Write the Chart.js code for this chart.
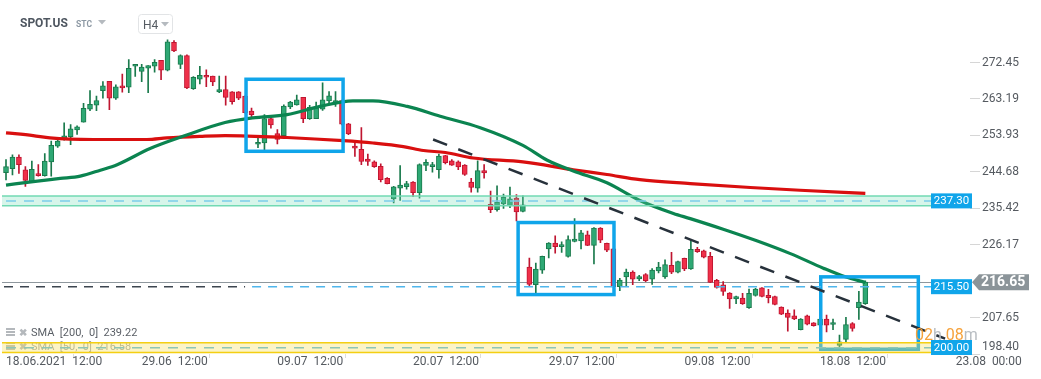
<!DOCTYPE html>
<html>
<head>
<meta charset="utf-8">
<script src="https://cdn.jsdelivr.net/npm/chart.js@4.4.1/dist/chart.umd.min.js"></script>
<style>
  html, body { margin: 0; padding: 0; background: #fff; }
  #wrap { width: 1041px; height: 379px; position: relative; }
</style>
</head>
<body>
<div id="wrap"><canvas id="chart" width="1041" height="379"></canvas></div>
<script>
// H4 candles, SPOT.US
const candleOpen = [244.5,245.5,248.4,245.2,242.2,244.2,243.7,247.2,251.2,253.2,
  253.6,255.3,257.3,260.6,261.6,265.3,267.7,263.4,266.5,266.2,
  271.5,270.2,271.0,271.5,273.0,270.5,277.6,272.0,274.2,265.8,
  268.2,269.2,269.0,265.0,265.6,265.0,265.0,263.9,260.1,251.7,
  252.0,258.2,254.4,253.9,261.2,261.7,263.6,258.2,258.2,260.6,
  262.7,262.2,262.8,256.9,251.2,250.4,247.9,247.2,246.1,243.0,
  237.8,240.5,240.9,242.1,239.4,246.3,246.0,245.2,248.8,247.5,
  247.2,246.4,242.1,240.5,245.0,236.4,235.1,236.5,236.0,238.0,
  234.6,220.5,216.0,219.7,225.1,226.6,225.7,223.2,227.0,227.1,
  228.7,226.0,230.4,226.5,225.1,215.5,218.0,219.2,217.5,218.6,
  217.4,219.5,218.0,220.9,219.2,222.7,220.0,225.0,224.6,223.2,
  217.1,216.0,213.9,212.4,212.6,210.2,213.3,215.2,213.3,213.0,
  210.3,208.8,208.1,204.6,208.1,206.3,205.7,207.3,205.9,200.6,
  202.1,206.1,210.2,211.2];
const candleHigh = [247.8,249.0,249.0,246.0,247.4,246.5,249.3,252.5,253.0,257.1,
  256.7,256.4,262.1,265.3,263.9,267.6,267.7,266.8,269.5,273.2,
  272.0,272.0,271.7,273.2,273.0,278.2,278.0,274.4,274.4,268.9,
  271.5,270.6,269.0,269.0,269.0,265.1,265.1,264.0,260.9,253.3,
  259.2,258.3,255.4,261.7,262.6,264.2,263.6,261.6,262.4,267.3,
  265.1,265.1,262.9,257.0,252.7,255.9,249.2,247.5,246.7,243.2,
  241.0,246.3,242.3,242.2,246.7,247.8,247.1,249.2,248.9,247.8,
  247.5,246.5,243.0,247.5,246.5,239.8,241.1,239.0,240.8,238.9,
  238.6,222.8,221.5,223.3,226.7,228.4,226.9,228.4,232.8,229.8,
  229.6,230.5,230.5,226.6,225.2,217.6,220.0,219.5,218.4,218.8,
  220.1,221.7,222.3,224.2,222.0,222.8,227.3,225.5,224.8,224.2,
  217.4,216.8,214.0,213.1,213.8,214.9,215.1,215.3,214.8,213.1,
  210.4,209.6,209.6,207.4,208.3,206.4,207.4,208.3,207.3,203.2,
  207.7,206.4,214.3,217.0];
const candleLow = [242.6,243.9,244.3,241.0,242.0,243.6,243.6,243.6,250.9,252.7,
  251.6,254.2,257.3,260.2,260.2,263.4,260.5,263.1,264.9,264.8,
  268.9,267.6,264.8,270.0,268.1,270.3,275.2,270.9,265.8,265.6,
  267.0,266.3,266.6,264.8,261.6,261.9,263.0,259.6,258.7,250.8,
  250.2,255.8,251.8,253.7,260.7,261.6,257.2,258.0,258.2,260.3,
  262.2,261.3,256.6,254.1,248.6,246.5,246.3,245.8,242.1,241.6,
  236.8,237.4,240.3,238.4,238.0,245.0,244.6,243.1,246.7,246.3,
  245.2,243.8,239.5,239.5,243.1,234.3,234.7,235.4,235.6,232.2,
  234.5,215.7,213.7,218.9,222.8,224.0,224.2,223.0,226.9,225.1,
  225.9,221.3,226.7,224.4,215.3,214.5,215.7,216.0,217.0,216.8,
  216.1,219.0,217.6,218.8,219.0,219.6,219.9,224.2,222.8,216.5,
  215.1,213.3,210.0,211.2,211.0,210.0,213.1,212.9,211.4,210.9,
  208.4,204.2,207.1,204.5,205.8,205.5,205.6,204.0,204.6,199.7,
  201.3,204.2,207.2,211.0];
const candleClose = [246.0,248.4,246.5,242.5,245.3,243.7,247.4,251.4,252.5,253.8,
  255.6,256.1,260.8,261.8,262.8,266.5,263.4,266.3,266.0,271.0,
  272.0,271.3,271.7,272.5,270.5,277.7,275.4,274.2,266.0,268.7,
  269.2,268.7,267.5,265.6,263.6,262.5,263.4,259.7,259.2,252.2,
  258.2,256.6,252.9,261.4,262.4,263.0,258.2,261.1,260.9,263.0,
  264.0,262.8,256.8,254.3,250.7,247.3,247.3,246.0,242.7,241.7,
  240.9,241.3,241.7,239.4,246.5,247.1,246.5,248.7,247.0,246.4,
  245.9,244.0,240.7,245.0,244.4,235.1,237.0,238.2,237.8,234.5,
  236.3,216.1,220.0,223.2,226.6,225.7,226.2,227.5,227.6,229.2,
  226.0,230.4,227.3,224.8,215.5,217.2,219.2,217.4,218.1,217.0,
  219.7,220.5,221.1,219.2,221.9,220.0,225.0,224.4,223.0,216.6,
  215.3,214.3,212.4,213.0,211.2,213.8,214.9,213.0,212.7,211.0,
  208.5,207.7,207.3,207.3,206.0,205.6,207.3,205.7,206.4,201.5,
  205.9,204.9,211.6,216.65];

// moving averages (candle index, value)
const sma200X = [0,4.2,6.8,13.5,21.8,24.9,30,33.9,43.5,52.2,56.8,61.5,64.6,68,72.3,80,87.8,93,98.1,105.9,115.2,122.9,133];
const sma200Y = [254.6,253.9,253.3,252.9,252.9,253.3,253.7,253.9,253.4,252.6,252.0,251.1,250.1,249.6,248.2,247.2,245.2,244.0,242.7,241.7,240.7,240.0,239.22];
const sma50X = [0,4.2,8.4,11.5,14.6,17.2,22.3,27.4,33.9,38.2,43.5,48.6,53.7,56.8,62.1,67.2,73.4,80,83.7,87.8,93,98.1,103.3,105.9,111,116.3,121.4,126.5,129.9,133];
const sma50Y = [241.3,242.2,243.0,243.6,245.1,246.5,250.6,253.7,257.2,258.4,259.2,261.3,262.7,262.7,261.3,258.8,255.9,251.4,247.7,244.9,241.9,237.4,234.1,232.8,230.1,227.1,223.9,220.2,218.0,216.58];

// axis ticks
const xTickIdx = [0, 21, 42, 63, 84, 105, 126, 147];
const xTickText = ['18.06.2021  12:00', '29.06  12:00', '09.07  12:00', '20.07  12:00', '29.07  12:00', '09.08  12:00', '18.08  12:00', '23.08  00:00'];
const yTicks = [198.40, 207.65, 226.17, 235.42, 244.68, 253.93, 263.19, 272.45];

// drawings on the chart
const levelValues = [237.30, 215.50, 200.00];
const lastPrice = 216.65;
const boxX0 = [37.15, 79.26, 126.1];
const boxX1 = [52.17, 94.1, 141.2];
const boxLow = [249.9, 213.5, 199.6];
const boxHigh = [268.2, 231.8, 218.0];
const trendX = [66.1, 145.35];
const trendY = [252.9, 202.3];
const oldLevelEnd = 37; // dark part of the 215.50 line ends at this candle

const idx = candleOpen.map((_, i) => i);
const isUp = idx.map(i => candleClose[i] >= candleOpen[i]);
const GREEN_FILL = '#2ea874', GREEN_EDGE = '#1a7a4c';
const RED_FILL = '#ef3049', RED_EDGE = '#bf1530';
const BLUE = '#10a5ea';
const FONT = 'Roboto, "Noto Sans", sans-serif';

function hline(ctx, x0, x1, y) {
  ctx.beginPath(); ctx.moveTo(x0, y); ctx.lineTo(x1, y); ctx.stroke();
}

const overlay = {
  id: 'overlay',
  beforeDatasetsDraw(chart) {
    const { ctx, chartArea: a, scales: { y } } = chart;
    ctx.save();
    // last price line
    ctx.strokeStyle = '#8e979d';
    ctx.lineWidth = 1;
    hline(ctx, a.left, a.right + 2, Math.round(y.getPixelForValue(lastPrice)) + 0.5);
    // study legend
    ctx.textBaseline = 'alphabetic';
    const rows = [['SMA  [200,  0]  239.22', '#5a5f66', 336], ['SMA  [50,  0]  216.58', '#a0a4a8', 350]];
    rows.forEach(([t, c, by]) => {
      ctx.fillStyle = '#b4b8bc';
      ctx.fillRect(6, by - 8, 9, 2); ctx.fillRect(6, by - 5, 9, 2); ctx.fillRect(6, by - 2, 9, 2);
      ctx.font = 'bold 10px ' + FONT;
      ctx.fillText('\u2716', 19, by);
      ctx.font = '11px ' + FONT;
      ctx.fillStyle = c;
      ctx.fillText(t, 31, by);
    });
    ctx.restore();
  },
  afterDatasetsDraw(chart) {
    const { ctx, chartArea: a, scales: { x, y } } = chart;
    ctx.save();
    // rectangles
    ctx.strokeStyle = BLUE;
    ctx.lineWidth = 3.5;
    boxX0.forEach((bx, k) => {
      const px0 = x.getPixelForValue(bx), px1 = x.getPixelForValue(boxX1[k]);
      const py0 = y.getPixelForValue(boxHigh[k]), py1 = y.getPixelForValue(boxLow[k]);
      ctx.strokeRect(px0, py0, px1 - px0, py1 - py0);
    });
    const labelLeft = a.right - 39;
    // support / resistance zones
    const zones = [
      { v: levelValues[0], fill: 'rgba(110,220,178,0.28)', edge: '#72dab3', dash: '#7ccdea' },
      { v: levelValues[2], fill: 'rgba(246,224,96,0.36)', edge: '#f4cf12', dash: '#8ec6b4' }
    ];
    zones.forEach(z => {
      const top = y.getPixelForValue(z.v + 1.25), bot = y.getPixelForValue(z.v - 1.25);
      ctx.fillStyle = z.fill;
      ctx.fillRect(a.left, top, labelLeft - a.left, bot - top);
      ctx.strokeStyle = z.edge; ctx.lineWidth = 1.5; ctx.setLineDash([]);
      hline(ctx, a.left, labelLeft, top);
      hline(ctx, a.left, labelLeft, bot);
      ctx.strokeStyle = z.dash; ctx.setLineDash([10, 8]);
      hline(ctx, a.left + 4, labelLeft, y.getPixelForValue(z.v));
    });
    // 215.50 level (darker on the left)
    const ly = y.getPixelForValue(levelValues[1]);
    const split = x.getPixelForValue(oldLevelEnd);
    ctx.lineWidth = 1.5; ctx.setLineDash([9, 7]);
    ctx.strokeStyle = '#3d4650';
    hline(ctx, a.left + 2, split, ly);
    ctx.strokeStyle = '#4fb6ec';
    hline(ctx, split + 7, labelLeft, ly);
    // trend line
    ctx.strokeStyle = '#27313b'; ctx.lineWidth = 2.5; ctx.setLineDash([15, 12]);
    ctx.beginPath();
    ctx.moveTo(x.getPixelForValue(trendX[0]), y.getPixelForValue(trendY[0]));
    ctx.lineTo(x.getPixelForValue(trendX[1]), y.getPixelForValue(trendY[1]));
    ctx.stroke();
    ctx.setLineDash([]);
    // level labels
    ctx.font = '11.5px ' + FONT;
    ctx.textBaseline = 'middle';
    ctx.textAlign = 'center';
    levelValues.forEach(v => {
      const py = Math.min(y.getPixelForValue(v), a.bottom - 6.5);
      ctx.fillStyle = BLUE;
      ctx.fillRect(labelLeft, py - 7.5, 41, 15);
      ctx.fillStyle = '#fff';
      ctx.fillText(v.toFixed(2), labelLeft + 20.5, py + 0.5);
    });
    // last price tag
    const pp = y.getPixelForValue(lastPrice);
    ctx.fillStyle = '#8b9499';
    ctx.beginPath();
    ctx.moveTo(a.right + 2, pp);
    ctx.lineTo(a.right + 9, pp - 8);
    ctx.lineTo(a.right + 59, pp - 8);
    ctx.lineTo(a.right + 59, pp + 8);
    ctx.lineTo(a.right + 9, pp + 8);
    ctx.closePath();
    ctx.fill();
    ctx.fillStyle = '#fff';
    ctx.font = 'bold 14px ' + FONT;
    ctx.textAlign = 'left';
    ctx.fillText(lastPrice.toFixed(2), a.right + 11, pp + 0.5);
    // bar countdown
    ctx.font = '16px ' + FONT;
    ctx.textBaseline = 'alphabetic';
    let cx = 915;
    [['02', '#f6a23b'], ['h', '#b8bdc2'], [' 08', '#f6a23b'], ['m', '#b8bdc2']].forEach(([t, c]) => {
      ctx.fillStyle = c; ctx.fillText(t, cx, 340); cx += ctx.measureText(t).width;
    });
    // header
    ctx.font = 'bold 12px ' + FONT;
    ctx.fillStyle = '#4e5660';
    ctx.fillText('SPOT.US', 20, 27);
    ctx.font = 'bold 8.5px ' + FONT;
    ctx.fillStyle = '#8c98a3';
    ctx.fillText('STC', 76, 27);
    ctx.fillStyle = '#b5babf';
    ctx.beginPath(); ctx.moveTo(98, 20); ctx.lineTo(106, 20); ctx.lineTo(102, 24.5); ctx.closePath(); ctx.fill();
    ctx.strokeStyle = '#e2e4e6'; ctx.lineWidth = 1;
    ctx.beginPath(); ctx.roundRect(138.5, 14.5, 34, 19, 3); ctx.stroke();
    ctx.fillStyle = '#555b62';
    ctx.font = '12px ' + FONT;
    ctx.fillText('H4', 143, 28.5);
    ctx.fillStyle = '#b5babf';
    ctx.beginPath(); ctx.moveTo(161, 22); ctx.lineTo(169, 22); ctx.lineTo(165, 26.5); ctx.closePath(); ctx.fill();
    ctx.restore();
  }
};

new Chart(document.getElementById('chart'), {
  type: 'bar',
  data: {
    datasets: [
      {
        type: 'line', label: 'SMA 50', order: 0,
        data: sma50X.map((v, k) => ({ x: v, y: sma50Y[k] })),
        borderColor: '#0b8450', borderWidth: 3.2, pointRadius: 0,
        cubicInterpolationMode: 'monotone'
      },
      {
        type: 'line', label: 'SMA 200', order: 1,
        data: sma200X.map((v, k) => ({ x: v, y: sma200Y[k] })),
        borderColor: '#d90f0f', borderWidth: 3.2, pointRadius: 0,
        cubicInterpolationMode: 'monotone'
      },
      {
        label: 'body', order: 2, grouped: false,
        data: idx.map(i => ({ x: i, y: [candleOpen[i], candleClose[i]] })),
        backgroundColor: idx.map(i => isUp[i] ? GREEN_FILL : RED_FILL),
        borderColor: idx.map(i => isUp[i] ? GREEN_EDGE : RED_EDGE),
        borderWidth: 1, borderSkipped: false, barThickness: 5, minBarLength: 2
      },
      {
        label: 'wick', order: 3, grouped: false,
        data: idx.map(i => ({ x: i, y: [candleLow[i], candleHigh[i]] })),
        backgroundColor: idx.map(i => isUp[i] ? GREEN_EDGE : RED_EDGE),
        borderWidth: 0, barThickness: 1
      }
    ]
  },
  options: {
    responsive: false,
    animation: false,
    devicePixelRatio: 1,
    layout: { padding: { left: 2, top: 0, right: 0, bottom: 0 } },
    plugins: { legend: { display: false }, tooltip: { enabled: false } },
    scales: {
      x: {
        type: 'linear', position: 'bottom', offset: false,
        min: -0.62, max: 149.2,
        afterBuildTicks: s => { s.ticks = xTickIdx.map(v => ({ value: v })); },
        afterFit: s => { s.height = 25; },
        grid: { drawOnChartArea: false, drawTicks: true, tickLength: 4, color: '#dcdcdc' },
        border: { display: false },
        ticks: {
          autoSkip: false, maxRotation: 0, align: 'start', padding: -3,
          color: '#555a60', font: { family: FONT, size: 12 },
          callback: v => xTickText[xTickIdx.indexOf(v)] || ''
        }
      },
      y: {
        type: 'linear', position: 'right',
        min: 198.4, max: 286.0,
        afterBuildTicks: s => { s.ticks = yTicks.map(v => ({ value: v })); },
        afterFit: s => { s.width = 71; },
        grid: { drawOnChartArea: false, drawTicks: true, tickLength: 10, color: '#d6d6d6' },
        border: { display: false },
        ticks: {
          padding: 2, color: '#555a60', font: { family: FONT, size: 12 },
          callback: v => v === yTicks[0] ? [v.toFixed(2), ''] : v.toFixed(2)
        }
      }
    }
  },
  plugins: [overlay]
});
</script>
</body>
</html>
